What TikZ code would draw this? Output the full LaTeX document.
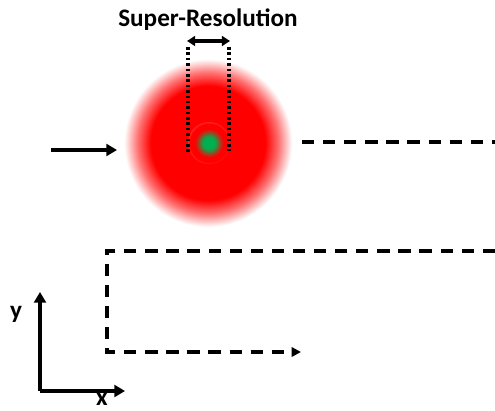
\documentclass[tikz,border=0pt]{standalone}
\usepackage{fontspec}
\setmainfont{Carlito}
\usetikzlibrary{arrows.meta}
\definecolor{spotgreen}{RGB}{0,175,80}
\pgfdeclareradialshading{redglow}{\pgfpoint{0bp}{0bp}}{%
  color(0bp)=(red); color(17bp)=(red); color(21bp)=(red!55!white);
  color(25bp)=(white); color(50bp)=(white)}
\pgfdeclareradialshading{greenspot}{\pgfpoint{0bp}{0bp}}{%
  color(0bp)=(spotgreen); color(7bp)=(spotgreen); color(17bp)=(red);
  color(23bp)=(red); color(25bp)=(red!85!white); color(50bp)=(red)}
\tikzset{
  thickarrow/.style={line width=3pt,-{Triangle[length=9pt,width=10pt]}},
  beampath/.style={line width=3pt,dash pattern=on 10.5pt off 7.5pt},
  srlimit/.style={line width=2.6pt,dash pattern=on 2.2pt off 2.4pt},
  lbl/.style={font=\fontsize{21.5}{24}\selectfont\bfseries}
}

\begin{document}
\begin{tikzpicture}[x=0.03cm,y=0.03cm]
\useasboundingbox (0,0) rectangle (495,410);
% focused spot
\shade[shading=redglow] (208,267) circle (84);
\shade[shading=greenspot] (209,267) circle (21);
% super-resolution window
\coordinate (wl) at (188,363);
\coordinate (wr) at (229,363);
\coordinate (bl) at (188,257);
\coordinate (br) at (229,259);
\draw[srlimit] (wl) -- (bl);
\draw[srlimit] (wr) -- (br);
\coordinate (al) at (187,369);
\coordinate (ar) at (230,369);
\draw[line width=3pt,{Triangle[length=7pt,width=8.5pt]}-{Triangle[length=7pt,width=8.5pt]}] (al) -- (ar);
\node[lbl] (title) at (208,390) {Super-Resolution};
% incoming beam
\coordinate (in0) at (51,260);
\coordinate (in1) at (117,260);
\draw[thickarrow,line width=2.6pt] (in0) -- (in1);
% scan path
\coordinate (s0) at (302,268);
\coordinate (s1) at (495,268);
\draw[beampath] (s0) -- (s1);
\coordinate (p0) at (495,159);
\coordinate (p1) at (107,159);
\coordinate (p2) at (107,58);
\coordinate (p3) at (301,58);
\draw[beampath,-{Triangle[length=8pt,width=8pt]}] (p0) -- (p1) -- (p2) -- (p3);
% axes
\coordinate (o) at (40,19);
\coordinate (ytip) at (40,118);
\coordinate (xtip) at (125,19);
\draw[thickarrow] (o) -- (ytip);
\draw[thickarrow] (o) -- (xtip);
\node[lbl] (ylbl) at (16,96) {y};
\node[lbl,inner sep=0pt,anchor=base] (xlbl) at (102,5) {x};
\end{tikzpicture}
\end{document}
